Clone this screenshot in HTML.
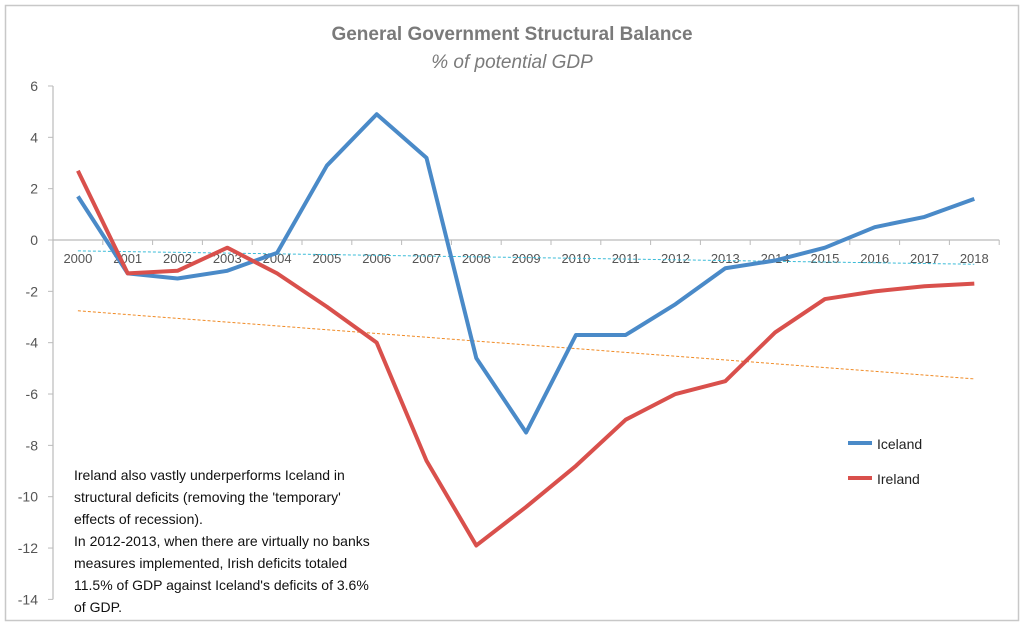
<!DOCTYPE html>
<html><head><meta charset="utf-8"><style>
body{margin:0;background:#fff;font-family:"Liberation Sans",sans-serif;}
svg text{font-family:"Liberation Sans",sans-serif;}
</style></head><body>
<svg id="chart" width="1025" height="628">
<rect x="5.5" y="5.5" width="1013" height="615" fill="#fff" stroke="#c8c8c8" stroke-width="1.5"/>
<text x="512" y="40" text-anchor="middle" font-size="19" font-weight="bold" fill="#7a7a7a">General Government Structural Balance</text>
<text x="512" y="68" text-anchor="middle" font-size="19" font-style="italic" fill="#7a7a7a">% of potential GDP</text>
<g id="axes"></g>
<g id="marks"></g>
<line x1="848" y1="443" x2="872" y2="443" stroke="#4a8ac8" stroke-width="4"/>
<text x="877" y="449" font-size="14" fill="#222">Iceland</text>
<line x1="848" y1="478" x2="872" y2="478" stroke="#d9504c" stroke-width="4"/>
<text x="877" y="484" font-size="14" fill="#222">Ireland</text>
<g font-size="14" fill="#111">
<text x="74" y="480">Ireland also vastly underperforms Iceland in</text>
<text x="74" y="502">structural deficits (removing the 'temporary'</text>
<text x="74" y="524">effects of recession).</text>
<text x="74" y="546">In 2012-2013, when there are virtually no banks</text>
<text x="74" y="568">measures implemented, Irish deficits totaled</text>
<text x="74" y="590">11.5% of GDP against Iceland's deficits of 3.6%</text>
<text x="74" y="612">of GDP.</text>
</g>
</svg>
<script>
const years=["2000","2001","2002","2003","2004","2005","2006","2007","2008","2009","2010","2011","2012","2013","2014","2015","2016","2017","2018"];
const iceland=[1.7,-1.3,-1.5,-1.2,-0.5,2.9,4.9,3.2,-4.6,-7.5,-3.7,-3.7,-2.5,-1.1,-0.8,-0.3,0.5,0.9,1.6];
const ireland=[2.7,-1.3,-1.2,-0.3,-1.3,-2.6,-4.0,-8.6,-11.9,-10.4,-8.8,-7.0,-6.0,-5.5,-3.6,-2.3,-2.0,-1.8,-1.7];
const yTicks=[6,4,2,0,-2,-4,-6,-8,-10,-12,-14];
const NS="http://www.w3.org/2000/svg";
const x0=53,step=49.8,yZero=240,perUnit=25.67;
function xs(i){return x0+step*(i+0.5);}
function ys(v){return yZero-v*perUnit;}
function mk(tag,attrs,parent){const e=document.createElementNS(NS,tag);for(const k in attrs)e.setAttribute(k,attrs[k]);parent.appendChild(e);return e;}
const axes=document.getElementById('axes'),marks=document.getElementById('marks');
const ya=mk('line',{x1:x0,y1:ys(6),x2:x0,y2:ys(-14),stroke:'#bbb','stroke-width':1.2},axes);


yTicks.forEach(t=>{
 mk('line',{x1:x0-5,y1:ys(t),x2:x0,y2:ys(t),stroke:'#bbb'},axes);
 const tx=mk('text',{x:x0-15,y:ys(t)+5,'text-anchor':'end','font-size':14,fill:'#555'},axes);
 tx.textContent=t;
 
 
});
const xa=mk('line',{x1:x0,y1:yZero,x2:x0+step*years.length,y2:yZero,stroke:'#bbb','stroke-width':1.2},axes);


years.forEach((y,i)=>{
 mk('line',{x1:x0+step*(i+1),y1:yZero,x2:x0+step*(i+1),y2:yZero+5,stroke:'#bbb'},axes);
 const tx=mk('text',{x:xs(i),y:yZero+23,'text-anchor':'middle','font-size':13,fill:'#555'},axes);
 tx.textContent=y;
 
 
});
function trend(arr){const n=arr.length;let sx=0,sy=0,sxy=0,sxx=0;arr.forEach((v,i)=>{sx+=i;sy+=v;sxy+=i*v;sxx+=i*i;});const b=(n*sxy-sx*sy)/(n*sxx-sx*sx);const a=(sy-b*sx)/n;return [a,a+b*(n-1)];}
const ti=trend(iceland),tr=trend(ireland);
const l1=mk('line',{x1:xs(0),y1:ys(ti[0]),x2:xs(years.length-1),y2:ys(ti[1]),stroke:'#3cbcd8','stroke-width':1,'stroke-dasharray':'3,2'},marks);


const l2=mk('line',{x1:xs(0),y1:ys(tr[0]),x2:xs(years.length-1),y2:ys(tr[1]),stroke:'#f08a24','stroke-width':1,'stroke-dasharray':'3,2'},marks);


function series(arr,color,name){
 const p=mk('polyline',{points:arr.map((v,i)=>xs(i)+','+ys(v)).join(' '),fill:'none',stroke:color,'stroke-width':4,'stroke-linejoin':'round'},marks);
 
 
}
series(iceland,'#4a8ac8','iceland-line');
series(ireland,'#d9504c','ireland-line');
</script>
</body></html>
